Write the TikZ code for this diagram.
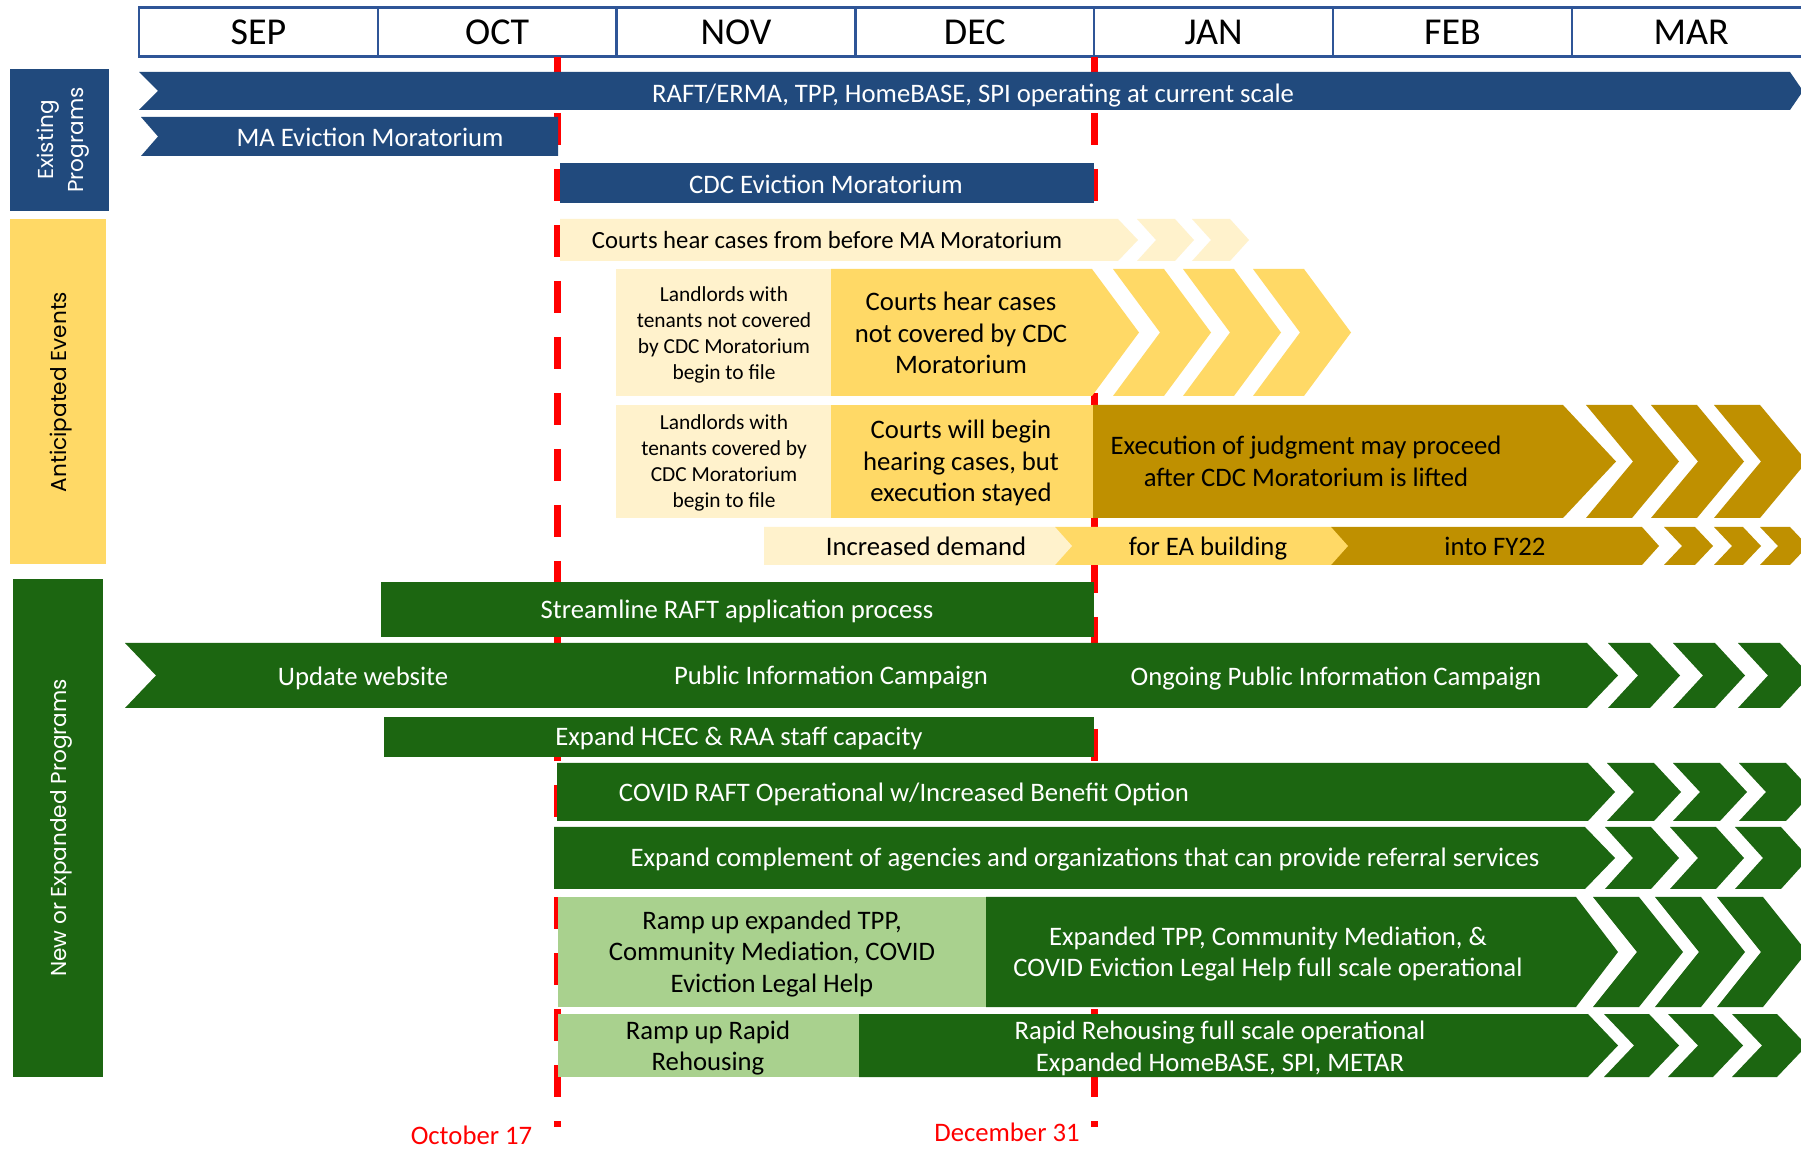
\documentclass[tikz,border=0pt]{standalone}
\usepackage{fontspec}
\setmainfont{Carlito}
\newfontfamily\labfont{Poppins}
\definecolor{cBlue}{HTML}{214A7D}
\definecolor{cHdr}{HTML}{2F5597}
\definecolor{cGold}{HTML}{FFD966}
\definecolor{cCream}{HTML}{FFF2CC}
\definecolor{cDGold}{HTML}{BF9000}
\definecolor{cGreen}{HTML}{1C6611}
\definecolor{cLGreen}{HTML}{A9D18E}
\definecolor{cRed}{HTML}{FF0000}
\newcommand{\chevpiece}[6]{\fill[#1] (#2,#4) -- (#3,#4) -- ({#3+#6},{(#4+#5)/2}) -- (#3,#5) -- (#2,#5) -- ({#2+#6},{(#4+#5)/2}) -- cycle;}
\newcommand{\arrowpiece}[6]{\fill[#1] (#2,#4) -- (#3,#4) -- ({#3+#6},{(#4+#5)/2}) -- (#3,#5) -- (#2,#5) -- cycle;}
\tikzset{
  cell/.style={draw=cHdr, line width=1.25pt, minimum width=119.4pt, minimum height=24.5pt, inner sep=0pt, font=\fontsize{19}{22}\selectfont},
  body/.style={font=\fontsize{13.35}{15.9}\selectfont, align=center, inner sep=0pt},
  sl/.style={anchor=base},
  smalltxt/.style={font=\fontsize{10.7}{13}\selectfont, align=center, inner sep=0pt},
  sidelab/.style={font=\labfont\fontsize{10.8}{15}\selectfont, align=center, inner sep=0pt, rotate=90},
  wt/.style={text=white},
  redline/.style={draw=cRed, line width=3.5pt, dash pattern=on 16pt off 12pt},
  datelab/.style={font=\fontsize{13.35}{15.9}\selectfont, text=cRed, inner sep=0pt, anchor=base}
}
\begin{document}
\begin{tikzpicture}[x=0.5pt,y=-0.5pt]
\clip (0,0) rectangle (1801,1149);
\fill[white] (0,0) rectangle (1801,1149);

% header
\node[cell] (sep) at (258.4,32) {SEP};
\node[cell] (oct) at (497.2,32) {OCT};
\node[cell] (nov) at (736.0,32) {NOV};
\node[cell] (dec) at (974.8,32) {DEC};
\node[cell] (jan) at (1213.6,32) {JAN};
\node[cell] (feb) at (1452.4,32) {FEB};
\node[cell] (mar) at (1691.2,32) {MAR};

% date lines
\coordinate (o1) at (557,57);
\coordinate (o2) at (557,1127);
\coordinate (d1) at (1094,57);
\coordinate (d2) at (1094,1127);
\draw[redline] (o1) -- (o2);
\draw[redline] (d1) -- (d2);

% side labels
\fill[cBlue] (10,69) rectangle (109,211);
\node[sidelab,wt] (lexist) at (63.5,140) {Existing\\Programs};
\fill[cGold] (10,219) rectangle (106,564);
\node[sidelab] (lant) at (61.5,392) {Anticipated Events};
\fill[cGreen] (13,579) rectangle (103,1077);
\node[sidelab,wt] (lnew) at (61.5,828) {New or Expanded Programs};

% existing programs
\fill[cBlue] (139,72) -- (1790,72) -- (1803,91) -- (1790,110) -- (139,110) -- (158,91) -- cycle;
\node[body,sl,wt] (raft) at (973,103) {RAFT/ERMA, TPP, HomeBASE, SPI operating at current scale};
\fill[cBlue] (141,117) -- (558,117) -- (558,156) -- (141,156) -- (158,136.5) -- cycle;
\node[body,sl,wt] (mam) at (370,146.5) {MA Eviction Moratorium};
\fill[cBlue] (560,163) rectangle (1094,203);
\node[body,sl,wt] (cdcm) at (826,193.5) {CDC Eviction Moratorium};

% anticipated events
\arrowpiece{cCream}{560}{1118}{219}{261}{20}
\chevpiece{cCream}{1137}{1175}{219}{261}{19}
\chevpiece{cCream}{1192}{1230}{219}{261}{19}
\node[body,sl,font=\fontsize{12.35}{15}\selectfont] (chb) at (827,249) {Courts hear cases from before MA Moratorium};

\fill[cCream] (616,269) rectangle (831,396);
\node[smalltxt] (ll1) at (724,335) {Landlords with\\tenants not covered\\by CDC Moratorium\\begin to file};
\arrowpiece{cGold}{831}{1092}{269}{396}{47}
\chevpiece{cGold}{1113}{1164}{269}{396}{47}
\chevpiece{cGold}{1183}{1234}{269}{396}{47}
\chevpiece{cGold}{1253}{1304}{269}{396}{47}
\node[body] (chn) at (961,333) {Courts hear cases\\not covered by CDC\\Moratorium};

\fill[cCream] (616,405) rectangle (831,518);
\node[smalltxt] (ll2) at (724,463) {Landlords with\\tenants covered by\\CDC Moratorium\\begin to file};
\fill[cGold] (831,405) rectangle (1093,518);
\node[body] (cwb) at (961,463) {Courts will begin\\hearing cases, but\\execution stayed};
\arrowpiece{cDGold}{1093}{1563}{405}{518}{53}
\chevpiece{cDGold}{1586}{1632}{405}{518}{47}
\chevpiece{cDGold}{1651}{1697}{405}{518}{47}
\chevpiece{cDGold}{1714}{1760}{405}{518}{47}
\node[body] (exj) at (1306,461) {Execution of judgment may proceed\\after CDC Moratorium is lifted};

\arrowpiece{cDGold}{1331}{1642}{527}{565}{17}
\chevpiece{cDGold}{1664}{1695}{527}{565}{18}
\chevpiece{cDGold}{1714}{1743}{527}{565}{18}
\chevpiece{cDGold}{1760}{1790}{527}{565}{18}
\arrowpiece{cGold}{1055}{1331}{527}{565}{17}
\arrowpiece{cCream}{764}{1055}{527}{565}{17}
\node[body,sl] (incd) at (926,556) {Increased demand};
\node[body,sl] (eab) at (1208,556) {for EA building};
\node[body,sl] (fy22) at (1495,556) {into FY22};

% new or expanded programs
\fill[cGreen] (381,582) rectangle (1094,637);
\node[body,sl,wt] (strm) at (737,619) {Streamline RAFT application process};

\fill[cGreen] (125,643) -- (1587,643) -- (1618,675.5) -- (1587,708) -- (125,708) -- (156,675.5) -- cycle;
\chevpiece{cGreen}{1608}{1650}{643}{708}{30}
\chevpiece{cGreen}{1673}{1715}{643}{708}{30}
\chevpiece{cGreen}{1738}{1780}{643}{708}{30}
\node[body,sl,wt] (upd) at (363,685.5) {Update website};
\node[body,sl,wt] (pic) at (831,685) {Public Information Campaign};
\node[body,sl,wt] (opic) at (1336,685.5) {Ongoing Public Information Campaign};

\fill[cGreen] (384,717) rectangle (1094,757);
\node[body,sl,wt] (hcec) at (739,745.5) {Expand HCEC \& RAA staff capacity};

\arrowpiece{cGreen}{557}{1588}{763}{821}{27}
\chevpiece{cGreen}{1607}{1654}{763}{821}{27}
\chevpiece{cGreen}{1673}{1720}{763}{821}{27}
\chevpiece{cGreen}{1739}{1786}{763}{821}{27}
\node[body,sl,wt] (covid) at (904,801.5) {COVID RAFT Operational w/Increased Benefit Option};

\arrowpiece{cGreen}{554}{1585}{827}{889}{30}
\chevpiece{cGreen}{1605}{1651}{827}{889}{28}
\chevpiece{cGreen}{1670}{1716}{827}{889}{28}
\chevpiece{cGreen}{1735}{1781}{827}{889}{28}
\node[body,sl,wt] (refs) at (1085,867) {Expand complement of agencies and organizations that can provide referral services};

\fill[cLGreen] (558,897) rectangle (986,1007);
\node[body] (rtpp) at (772,954) {Ramp up expanded TPP,\\Community Mediation, COVID\\Eviction Legal Help};
\arrowpiece{cGreen}{986}{1576}{897}{1007}{42}
\chevpiece{cGreen}{1593}{1639}{897}{1007}{44}
\chevpiece{cGreen}{1655}{1701}{897}{1007}{44}
\chevpiece{cGreen}{1717}{1763}{897}{1007}{44}
\node[body,wt] (etpp) at (1268,954) {Expanded TPP, Community Mediation, \&\\COVID Eviction Legal Help full scale operational};

\fill[cLGreen] (558,1014) rectangle (859,1077);
\node[body] (rrr) at (708,1048) {Ramp up Rapid\\Rehousing};
\arrowpiece{cGreen}{859}{1588}{1014}{1077}{30}
\chevpiece{cGreen}{1604}{1649}{1014}{1077}{30}
\chevpiece{cGreen}{1668}{1713}{1014}{1077}{30}
\chevpiece{cGreen}{1732}{1777}{1014}{1077}{30}
\node[body,wt] (rrf) at (1220,1048) {Rapid Rehousing full scale operational\\Expanded HomeBASE, SPI, METAR};

% date labels
\node[datelab] (oct17) at (471.5,1144) {October 17};
\node[datelab] (dec31) at (1007,1141) {December 31};
\end{tikzpicture}
\end{document}
